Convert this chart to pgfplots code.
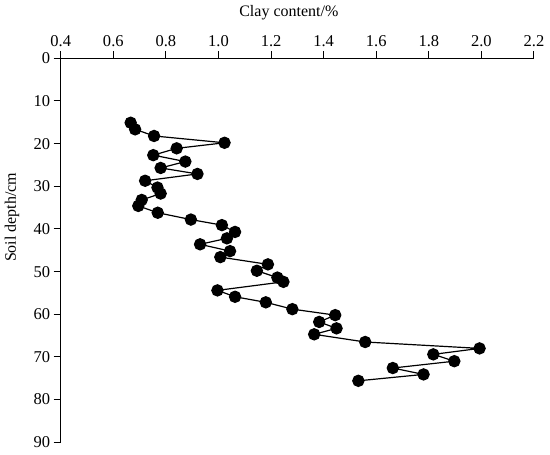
\documentclass[border=0pt]{standalone}
\usepackage{fontspec}
\setmainfont{Liberation Serif}
\usepackage{pgfplots}
\pgfplotsset{compat=1.18}
\begin{document}
\begin{tikzpicture}
\begin{axis}[
    name=ax,
    scale only axis,
    width=473pt,
    height=383.7pt,
    xmin=0.4, xmax=2.2,
    ymin=0, ymax=90,
    y dir=reverse,
    axis x line=top,
    axis y line=left,
    axis line style={-, line width=1pt},
    xtick={0.4,0.6,0.8,1.0,1.2,1.4,1.6,1.8,2.0,2.2},
    ytick={0,10,20,30,40,50,60,70,80,90},
    tick align=outside,
    major tick length=7pt,
    tick style={line width=1pt, black},
    xticklabel style={/pgf/number format/fixed, /pgf/number format/fixed zerofill, /pgf/number format/precision=1, yshift=1pt},
    /pgf/number format/assume math mode=true,
    tick label style={font=\fontsize{16.5}{18}\selectfont},
    label style={font=\fontsize{16}{18}\selectfont},
    xlabel={Clay content/\%},
    ylabel={Soil depth/cm},
    xlabel style={at={(axis description cs:0.482,1.12)}, anchor=center},
    ylabel style={at={(axis description cs:-0.103,0.586)}, anchor=center},
    clip=false,
]
\addplot[black, line width=1.2pt, mark=*, mark size=5.6pt] table {
x y
0.666 15.1
0.683 16.65
0.755 18.2
1.023 19.8
0.841 21.1
0.752 22.7
0.874 24.2
0.780 25.7
0.920 27.1
0.721 28.7
0.768 30.3
0.780 31.7
0.708 33.2
0.695 34.6
0.769 36.2
0.895 37.8
1.013 39.1
1.063 40.7
1.032 42.2
0.930 43.6
1.044 45.2
1.007 46.6
1.188 48.3
1.146 49.8
1.224 51.4
1.247 52.4
0.996 54.4
1.063 55.9
1.180 57.2
1.281 58.8
1.444 60.2
1.383 61.8
1.449 63.3
1.364 64.7
1.558 66.5
1.993 68.0
1.817 69.4
1.897 71.0
1.663 72.6
1.780 74.1
1.532 75.6
};
\end{axis}
\pgfresetboundingbox
\path ([shift={(-60.7pt,-12pt)}]ax.south west) rectangle ([shift={(16pt,58.3pt)}]ax.north east);
\end{tikzpicture}
\end{document}
